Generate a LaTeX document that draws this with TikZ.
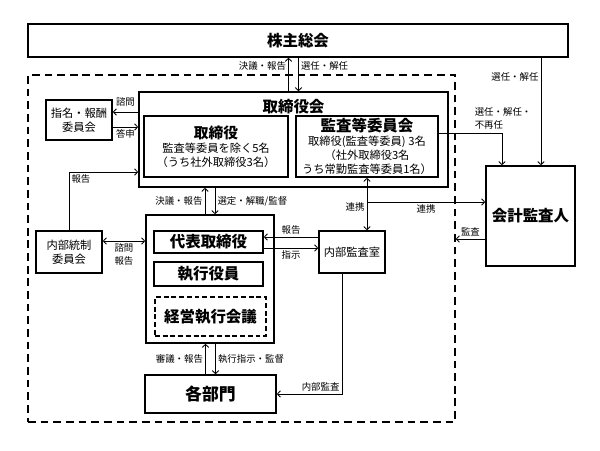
\documentclass[tikz,border=0pt]{standalone}
\usepackage{fontspec}
\setmainfont{Noto Sans CJK JP}
\usetikzlibrary{calc,positioning,arrows.meta}
\tikzset{
  line/.style  = {-{Straight Barb[length=2.2pt,width=4.6pt]}, line width=0.6pt},
  dline/.style = {{Straight Barb[length=2.2pt,width=4.6pt]}-{Straight Barb[length=2.2pt,width=4.6pt]}, line width=0.6pt},
  box/.style   = {draw, line width=1.1pt, align=center, inner sep=1pt},
  lbl/.style   = {font=\fontsize{6.7}{9}\selectfont, inner sep=1.5pt, align=left},
  headtxt/.style = {font=\bfseries\fontsize{11}{13}\selectfont},
  subtxt/.style  = {font=\fontsize{8}{10}\selectfont},
}

\begin{document}
\begin{tikzpicture}[x=0.025cm, y=-0.025cm]
  \useasboundingbox (0,0) rectangle (600,450);
  \node[box, minimum width=135mm, minimum height=8.25mm, headtxt] (gm) at (298,40.5) {株主総会};
  \node[draw, line width=1pt, dash pattern=on 5.5pt off 3.5pt, minimum width=106.75mm, minimum height=86.75mm] (region) at (241.5,248.5) {};
  \node[box, minimum width=77.25mm, minimum height=23.75mm] (board) at (293.5,139.5) {};
  \node[headtxt] (boardtitle) at (293.5,107) {取締役会};
  \node[box, minimum width=36mm, minimum height=15.25mm, subtxt] (dir) at (216,146.5)
    {{\bfseries\fontsize{10.5}{12}\selectfont 取締役}\\監査等委員を除く5名\\（うち社外取締役3名）};
  \node[box, minimum width=35.5mm, minimum height=15.25mm, subtxt] (acm) at (367,146.5)
    {{\bfseries\fontsize{11}{13}\selectfont 監査等委員会}\\取締役(監査等委員) 3名\\（社外取締役3名\\うち常勤監査等委員1名）};
  \node[box, minimum width=16.5mm, minimum height=10mm, subtxt] (nom) at (79,120) {指名・報酬\\委員会};
  \node[box, minimum width=16.5mm, minimum height=10.5mm, subtxt] (icc) at (69,252) {内部統制\\委員会};
  \node[box, minimum width=32mm, minimum height=32mm] (exec) at (210,279) {};
  \node[box, minimum width=27.25mm, minimum height=5.5mm, headtxt] (rep) at (208.5,242) {代表取締役};
  \node[box, minimum width=27.25mm, minimum height=6mm, headtxt] (off) at (208.5,274) {執行役員};
  \node[box, dash pattern=on 3.5pt off 2pt, minimum width=27.75mm, minimum height=9.75mm, headtxt] (mtg) at (210.5,316.5) {経営執行会議};
  \node[box, minimum width=16.5mm, minimum height=10.5mm, subtxt] (iad) at (352,252) {内部監査室};
  \node[box, minimum width=22.25mm, minimum height=25mm, headtxt] (aud) at (530.5,216) {会計監査人};
  \node[box, minimum width=32.75mm, minimum height=9.5mm, font=\bfseries\fontsize{12}{14}\selectfont] (dept) at (210.5,394) {各部門};

  % 株主総会 / 取締役会
  \draw[line] ([xshift=-1.25mm]board.north) -- ([xshift=-1.25mm]board.north |- gm.south)
    node[lbl, left, pos=0.77] (l1) {決議・報告};
  \draw[line] ([xshift=1.25mm]board.north |- gm.south) -- ([xshift=1.25mm]board.north)
    node[lbl, right, pos=0.25] (l2) {選任・解任};
  \draw[line] ([xshift=2.625mm]aud.north |- gm.south) -- ([xshift=2.625mm]aud.north)
    node[lbl, left, pos=0.18] (l3) {選任・解任};
  \draw[line] ([yshift=3.375mm]acm.east) -| ([xshift=-7.125mm]aud.north)
    node[lbl, pos=0.265, anchor=south west, yshift=1pt] (l4) {選任・解任・\\不再任};
  \draw[line] ([yshift=6.875mm]board.west) -- ([yshift=6.875mm]board.west -| nom.east)
    node[lbl, midway, above, yshift=2pt] (l5) {諮問};
  \draw[line] ([yshift=3.125mm]board.west -| nom.east) -- ([yshift=3.125mm]board.west)
    node[lbl, midway, below] (l6) {答申};
  \draw[line] (icc.north) |- ([yshift=-8.125mm]board.west)
    node[lbl, pos=0.5, below right] (l7) {報告};

  % 取締役会 / 執行
  \draw[line] ([xshift=-1.25mm]exec.north) -- ([xshift=-1.25mm]exec.north |- board.south)
    node[lbl, midway, left] (l8) {決議・報告};
  \draw[line] ([xshift=1.25mm]exec.north |- board.south) -- ([xshift=1.25mm]exec.north)
    node[lbl, midway, right] (l9) {選定・解職/監督};
  \draw[dline] ([yshift=2.75mm]icc.east) -- ([yshift=2.75mm]icc.east -| exec.west)
    node[lbl, midway, below, align=center] (l10) {諮問\\報告};
  \draw[line] ([yshift=1.25mm]rep.east -| iad.west) -- ([yshift=1.25mm]rep.east)
    node[lbl, midway, above] (l11) {報告};
  \draw[line] ([yshift=-1.5mm]rep.east) -- ([yshift=-1.5mm]rep.east -| iad.west)
    node[lbl, midway, below] (l12) {指示};

  % 監査
  \draw[dline] (acm.south) -- (acm.south |- iad.north)
    node[lbl, pos=0.55, left] (l13) {連携};
  \draw[line] ([yshift=3.5mm]aud.west -| acm.south) -- ([yshift=3.5mm]aud.west)
    node[lbl, midway, below] (l14) {連携};
  \draw[line] ([yshift=-5.75mm]aud.west) -- ([yshift=-5.75mm]aud.west -| region.east)
    node[lbl, midway, above] (l15) {監査};
  \draw[line] ([xshift=-2.5mm]iad.south) |- (dept.east)
    node[lbl, pos=0.5, above left] (l16) {内部監査};

  % 執行 / 各部門
  \draw[line] ([xshift=-1.25mm]dept.north) -- ([xshift=-1.25mm]dept.north |- exec.south)
    node[lbl, midway, left] (l17) {審議・報告};
  \draw[line] ([xshift=1.25mm]dept.north |- exec.south) -- ([xshift=1.25mm]dept.north)
    node[lbl, midway, right] (l18) {執行指示・監督};
\end{tikzpicture}
\end{document}
